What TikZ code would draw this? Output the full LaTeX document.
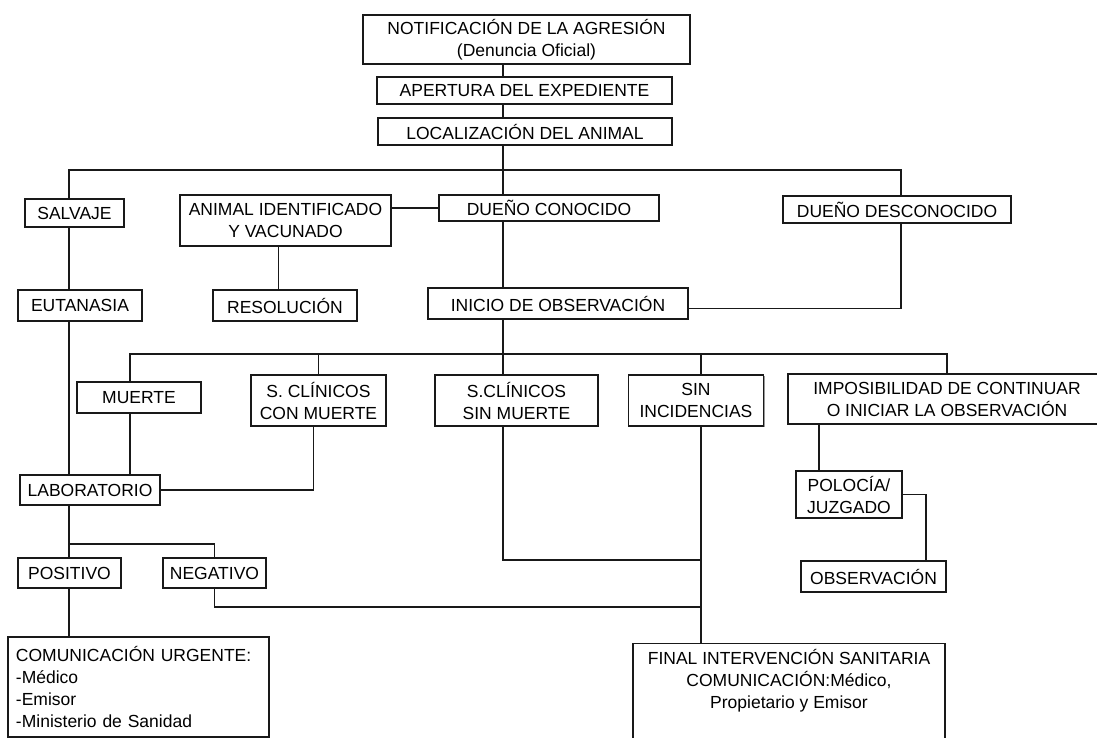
\documentclass[tikz,border=0pt]{standalone}
\usepackage{fontspec}
\setmainfont{Liberation Sans}
\usetikzlibrary{positioning,shadows}

\begin{document}
\begin{tikzpicture}[x=1pt,y=-1pt,font=\fontsize{17.5}{22}\selectfont,
	box/.style={draw=black!90, line width=1.3pt, fill=white, align=center, inner sep=2pt,
		drop shadow={shadow xshift=1.3pt, shadow yshift=-1.3pt, fill=black!40, opacity=1}},
	line/.style={draw=black!90, line width=1.3pt}]
	
	\useasboundingbox (0,0) rectangle (1097,738);
	
	%Cajas
	\node (notif) [box, minimum width=327pt, minimum height=49pt] at (526.5,39.5) {NOTIFICACIÓN DE LA AGRESIÓN\\(Denuncia Oficial)};
	\node (apert) [box, minimum width=295pt, minimum height=27pt] at (524.5,90.5) {APERTURA DEL EXPEDIENTE};
	\node (local) [box, minimum width=294pt, minimum height=27pt] at (525,131.5) {LOCALIZACIÓN DEL ANIMAL};
	
	\node (salvaje) [box, minimum width=99pt, minimum height=28pt] at (74.5,213) {SALVAJE};
	\node (animal) [box, minimum width=211pt, minimum height=51pt] at (285.5,220.5) {ANIMAL IDENTIFICADO\\Y VACUNADO};
	\node (duenoc) [box, minimum width=220pt, minimum height=26pt] at (549,208) {DUEÑO CONOCIDO};
	\node (duenod) [box, minimum width=228pt, minimum height=27pt] at (897,209.5) {DUEÑO DESCONOCIDO};
	
	\node (eutan) [box, minimum width=124pt, minimum height=31pt] at (80,305.5) {EUTANASIA};
	\node (resol) [box, minimum width=144pt, minimum height=31pt] at (285,305.5) {RESOLUCIÓN};
	\node (inicio) [box, minimum width=260pt, minimum height=31pt] at (558,303.5) {INICIO DE OBSERVACIÓN};
	
	\node (muerte) [box, minimum width=124pt, minimum height=31pt] at (139,397.5) {MUERTE};
	\node (sccon) [box, minimum width=135pt, minimum height=51pt] at (318.5,400.5) {S. CLÍNICOS\\CON MUERTE};
	\node (scsin) [box, minimum width=163pt, minimum height=51pt] at (516.5,400.5) {S.CLÍNICOS\\SIN MUERTE};
	\node (sininc) [box, minimum width=135pt, minimum height=51pt] at (696,400.5) {SIN\\INCIDENCIAS};
	\node (impos) [box, minimum width=318pt, minimum height=50pt] at (947,399) {IMPOSIBILIDAD DE CONTINUAR\\O INICIAR LA OBSERVACIÓN};
	
	\node (labor) [box, minimum width=140pt, minimum height=30pt] at (90,490) {LABORATORIO};
	\node (polic) [box, minimum width=106pt, minimum height=47pt] at (849,494.5) {POLOCÍA/\\JUZGADO};
	\node (posit) [box, minimum width=103pt, minimum height=30pt] at (69.5,573) {POSITIVO};
	\node (negat) [box, minimum width=103pt, minimum height=30pt] at (214.5,573) {NEGATIVO};
	\node (observ) [box, minimum width=145pt, minimum height=31pt] at (873.5,576.5) {OBSERVACIÓN};
	
	\node (urgente) [box, text width=245pt, inner xsep=8pt, minimum height=100pt, align=left] at (138.5,687) {COMUNICACIÓN URGENTE:\\-Médico\\-Emisor\\-Ministerio de Sanidad};
	\node (final) [box, minimum width=312pt, anchor=north, inner ysep=6pt] at (789,643) {FINAL INTERVENCIÓN SANITARIA\\COMUNICACIÓN:Médico,\\Propietario y Emisor\\~\\~};
	
	%Ejes
	\coordinate (ejeA) at (69,0);
	\coordinate (eje) at (503,0);
	\coordinate (ejeM) at (130,0);
	\coordinate (ejeD) at (901,0);
	\coordinate (ejeS) at (701,0);
	\coordinate (ejeP) at (819,0);
	\coordinate (ejeQ) at (926,0);
	\coordinate (bus1) at (503,170);
	\coordinate (bus2) at (503,354);
	\coordinate (bus3) at (69,544);
	\coordinate (js) at (701,560);
	\coordinate (jn) at (701,607);
	
	%Lineas
	\draw[line] (notif.south -| eje) -- (apert.north -| eje);
	\draw[line] (apert.south -| eje) -- (local.north -| eje);
	\draw[line] (local.south -| eje) -- (duenoc.north -| eje);
	\draw[line] (salvaje.north -| ejeA) |- (bus1) -| (duenod.north -| ejeD);
	\draw[line] (animal.east |- duenoc.west) -- (duenoc.west);
	\draw[line] ([xshift=-7pt]animal.south) -- ([xshift=-7pt]animal.south |- resol.north);
	\draw[line] (salvaje.south -| ejeA) -- (eutan.north -| ejeA);
	\draw[line] (eutan.south -| ejeA) -- (labor.north -| ejeA);
	\draw[line] (duenoc.south -| eje) -- (inicio.north -| eje);
	\draw[line] ([yshift=-5pt]inicio.east) -| (duenod.south -| ejeD);
	
	\draw[line] (inicio.south -| eje) -- (scsin.north -| eje);
	\draw[line] (muerte.north -| ejeM) |- (bus2) -| (impos.north);
	\draw[line] (sccon.north) -- (sccon.north |- bus2);
	\draw[line] (sininc.north -| ejeS) -- (ejeS |- bus2);
	\draw[line] (muerte.south -| ejeM) -- (labor.north -| ejeM);
	\draw[line] ([xshift=-5pt]sccon.south) |- (labor.east);
	
	\draw[line] (labor.south -| ejeA) -- (posit.north -| ejeA);
	\draw[line] (bus3) -| (negat.north);
	\draw[line] (posit.south -| ejeA) -- (urgente.north -| ejeA);
	\draw[line] (negat.south) |- (jn);
	\draw[line] (scsin.south -| eje) |- (js);
	\draw[line] (sininc.south -| ejeS) -- (final.north -| ejeS);
	
	\draw[line] (impos.south -| ejeP) -- (polic.north -| ejeP);
	\draw[line] (polic.east) -| (observ.north -| ejeQ);
	
\end{tikzpicture}
\end{document}
